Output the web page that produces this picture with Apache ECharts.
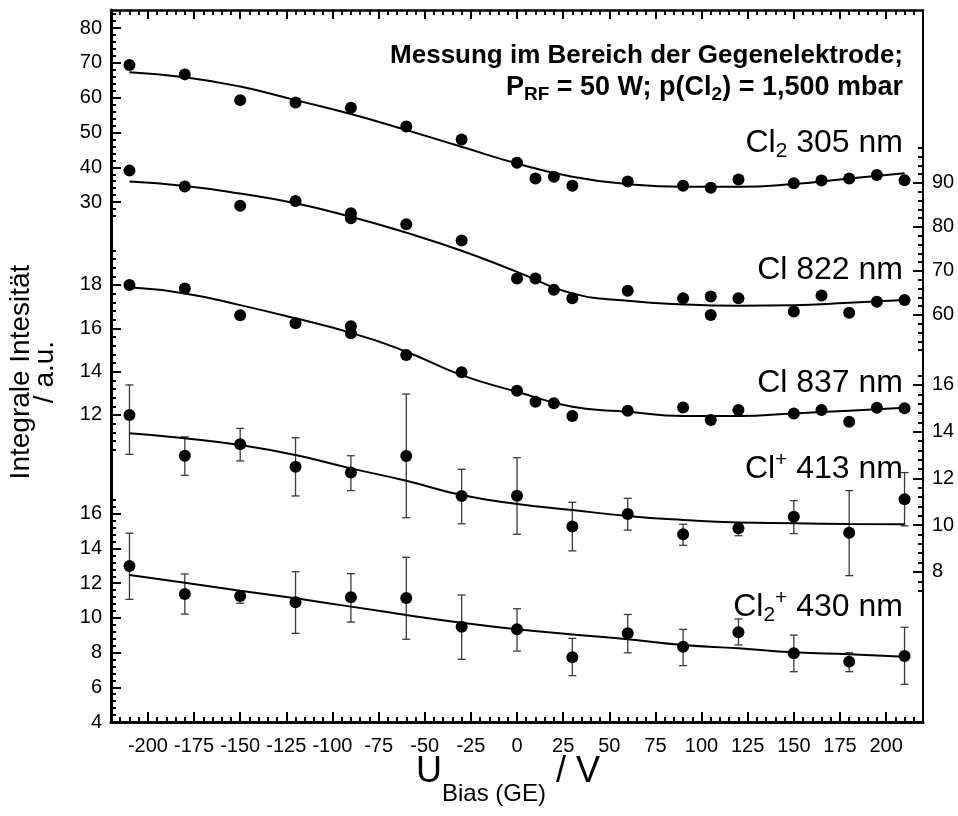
<!DOCTYPE html>
<html><head><meta charset="utf-8">
<script src="https://cdn.jsdelivr.net/npm/echarts@6/dist/echarts.min.js"></script>
<style>html,body{margin:0;padding:0;background:#fff}#c{width:958px;height:816px}</style>
</head><body><div id="c"></div>
<script>
// ---------- DATA ----------
const xLabels = [-200,-175,-150,-125,-100,-75,-50,-25,0,25,50,75,100,125,150,175,200];

const xCl2_305 = [-210,-180,-150,-120,-90,-60,-30,0,10,20,30,60,90,105,120,150,165,180,195,210];
const yCl2_305 = [69.4,66.7,59.3,58.6,57.1,51.7,48.0,41.3,36.8,37.3,34.7,35.9,34.7,34.1,36.5,35.4,36.2,36.8,37.8,36.3];

const xCl_822 = [-210,-180,-150,-120,-90,-90,-60,-30,0,10,20,30,60,90,105,105,120,150,165,180,195,210];
const yCl_822 = [92.8,89.2,84.8,85.9,83.1,82.0,80.6,76.9,68.3,68.3,65.7,63.8,65.5,63.8,64.2,60.0,63.8,60.8,64.4,60.5,63.0,63.4];

const xCl_837 = [-210,-180,-150,-120,-90,-90,-60,-30,0,10,20,30,60,90,105,120,150,165,180,195,210];
const yCl_837 = [18.0,17.84,16.6,16.23,16.1,15.77,14.77,13.97,13.12,12.61,12.54,11.95,12.2,12.35,11.77,12.23,12.07,12.23,11.69,12.33,12.31];

const xIon = [-210,-180,-150,-120,-90,-60,-30,0,30,60,90,120,150,180,210];
const yClp_413 = [14.71,12.97,13.46,12.5,12.25,12.96,11.25,11.26,9.94,10.48,9.61,9.87,10.36,9.68,11.11];
const loClp_413 = [13.03,12.13,12.75,11.25,11.48,10.32,10.06,9.61,8.9,9.79,9.14,9.55,9.64,7.84,9.97];
const hiClp_413 = [16.0,13.78,14.14,13.74,12.97,15.61,12.39,12.89,10.98,11.15,10.04,10.08,11.05,11.48,12.25];

const yCl2p_430 = [12.99,11.38,11.26,10.9,11.19,11.15,9.49,9.34,7.73,9.11,8.34,9.17,7.96,7.48,7.8];
const loCl2p_430 = [11.07,10.22,10.84,9.11,9.76,8.77,7.61,8.09,6.67,7.99,7.25,8.44,6.9,6.9,6.17];
const hiCl2p_430 = [14.88,12.53,11.57,12.66,12.55,13.49,11.32,10.53,8.82,10.2,9.34,9.94,9.01,7.99,9.46];

const xFit = [-210,-180,-150,-120,-90,-60,-30,0,30,60,90,120,150,180,210];
const fitCl2_305 = [67.3,65.9,63.2,59.3,55.3,50.7,45.9,41.1,37.3,35.2,34.4,34.4,35.2,36.8,38.3];
const fitCl_822 = [90.3,89.3,87.6,85.4,82.3,78.7,74.6,69.8,64.9,63.25,62.4,62.1,62.2,62.8,63.4];
const fitCl_837 = [17.89,17.61,17.07,16.46,15.79,14.92,13.84,13.07,12.38,12.15,11.95,11.95,12.07,12.2,12.33];
const fitClp_413 = [13.93,13.72,13.43,13.0,12.43,11.9,11.29,10.91,10.65,10.39,10.22,10.11,10.08,10.05,10.04];
const fitCl2p_430 = [12.47,12.03,11.57,11.13,10.65,10.17,9.72,9.34,9.05,8.77,8.44,8.25,8.02,7.9,7.76];

// tick label arrays for each stacked scale
const lblLeftTop = [30,40,50,60,70,80];
const lblLeftMid = [12,14,16,18];
const lblLeftBot = [4,6,8,10,12,14,16];
const lblRightTop = [60,70,80,90];
const lblRightBot = [8,10,12,14,16];

// ---------- helpers ----------
function range(a,b,s){const r=[];const n=Math.round((b-a)/s);for(let i=0;i<=n;i++)r.push(+(a+i*s).toFixed(3));return r;}
function without(arr,ex){return arr.filter(v=>!ex.some(e=>Math.abs(e-v)<1e-6));}
const FONT = '"Liberation Sans", Arial, Helvetica, sans-serif';
const BLACK = '#000';

function yPair(pos, min, max, labels, minors, line, lineW){
  return [
    {type:'value', position:pos, min:min, max:max,
     axisLine:{show:line, onZero:false, lineStyle:{color:BLACK,width:lineW}},
     splitLine:{show:false},
     axisTick:{show:true, inside:true, length:10, lineStyle:{color:BLACK,width:2}, customValues:labels},
     axisLabel:{show:true, customValues:labels, color:BLACK, fontSize:20, fontFamily:FONT, margin:9}},
    {type:'value', position:pos, min:min, max:max,
     axisLine:{show:false, onZero:false}, splitLine:{show:false},
     axisTick:{show:true, inside:true, length:5, lineStyle:{color:BLACK,width:2}, customValues:without(minors,labels)},
     axisLabel:{show:false}}
  ];
}

const yAxes = [].concat(
  yPair('left', -119.4, 85.2, lblLeftTop, range(26,84,2), true, 3),      // 0,1
  yPair('left', -2.17, 30.69, lblLeftMid, range(10.4,19.6,0.4), false, 3), // 2,3
  yPair('left', 4, 45.04, lblLeftBot, range(4,16.8,0.4), false, 3),        // 4,5
  yPair('right', -32.5, 129.3, lblRightTop, range(52,98,2), true, 2),      // 6,7
  yPair('right', 1.58, 32.04, lblRightBot, range(7.2,16.4,0.4), false, 2)  // 8,9
);

const xMinor = without(range(-215,215,5), xLabels);
const xAxes = [
  {type:'value', position:'bottom', min:-220, max:220,
   axisLine:{onZero:false, lineStyle:{color:BLACK,width:3}}, splitLine:{show:false},
   axisTick:{inside:true, length:10, lineStyle:{color:BLACK,width:2}, customValues:xLabels},
   axisLabel:{customValues:xLabels, color:BLACK, fontSize:20, fontFamily:FONT, margin:14}},
  {type:'value', position:'bottom', min:-220, max:220,
   axisLine:{show:false,onZero:false}, splitLine:{show:false},
   axisTick:{inside:true, length:5, lineStyle:{color:BLACK,width:2}, customValues:xMinor},
   axisLabel:{show:false}},
  {type:'value', position:'top', min:-220, max:220,
   axisLine:{onZero:false, lineStyle:{color:BLACK,width:2.5}}, splitLine:{show:false},
   axisTick:{inside:true, length:9, lineStyle:{color:BLACK,width:2}, customValues:xLabels},
   axisLabel:{show:false}},
  {type:'value', position:'top', min:-220, max:220,
   axisLine:{show:false,onZero:false}, splitLine:{show:false},
   axisTick:{inside:true, length:5, lineStyle:{color:BLACK,width:2}, customValues:xMinor},
   axisLabel:{show:false}}
];

function zip(xs, ys){return xs.map((x,i)=>[x, ys[i]]);}
function zip3(xs, a, b){return xs.map((x,i)=>[x, a[i], b[i]]);}

function errRender(params, api){
  const x = api.value(0), lo = api.value(1), hi = api.value(2);
  const p1 = api.coord([x, hi]), p2 = api.coord([x, lo]);
  const w = 4;
  const st = {stroke:'#3a3a3a', lineWidth:1.3};
  return {type:'group', children:[
    {type:'line', shape:{x1:p1[0],y1:p1[1],x2:p2[0],y2:p2[1]}, style:st},
    {type:'line', shape:{x1:p1[0]-w,y1:p1[1],x2:p1[0]+w,y2:p1[1]}, style:st},
    {type:'line', shape:{x1:p2[0]-w,y1:p2[1],x2:p2[0]+w,y2:p2[1]}, style:st}
  ]};
}

function scatter(name, data, yi){
  return {name:name, type:'scatter', xAxisIndex:0, yAxisIndex:yi, data:data,
    symbol:'circle', symbolSize:12, itemStyle:{color:BLACK, opacity:1}, z:5, silent:true};
}
function fit(name, data, yi){
  return {name:name, type:'line', xAxisIndex:0, yAxisIndex:yi, data:data, smooth:0.5,
    showSymbol:false, lineStyle:{color:BLACK, width:2}, z:4, silent:true};
}
function errs(name, data, yi){
  return {name:name, type:'custom', xAxisIndex:0, yAxisIndex:yi, data:data,
    renderItem:errRender, encode:{x:0, y:[1,2]}, z:3, silent:true};
}

const series = [
  fit('fit Cl2 305', zip(xFit, fitCl2_305), 0),
  scatter('Cl2 305 nm', zip(xCl2_305, yCl2_305), 0),
  fit('fit Cl 822', zip(xFit, fitCl_822), 6),
  scatter('Cl 822 nm', zip(xCl_822, yCl_822), 6),
  fit('fit Cl 837', zip(xFit, fitCl_837), 2),
  scatter('Cl 837 nm', zip(xCl_837, yCl_837), 2),
  errs('err Cl+ 413', zip3(xIon, loClp_413, hiClp_413), 8),
  fit('fit Cl+ 413', zip(xFit, fitClp_413), 8),
  scatter('Cl+ 413 nm', zip(xIon, yClp_413), 8),
  errs('err Cl2+ 430', zip3(xIon, loCl2p_430, hiCl2p_430), 4),
  fit('fit Cl2+ 430', zip(xFit, fitCl2p_430), 4),
  scatter('Cl2+ 430 nm', zip(xIon, yCl2p_430), 4)
];

const labRich = {
  n:{fontSize:32, fontFamily:FONT, lineHeight:38, color:BLACK},
  sub:{fontSize:21, fontFamily:FONT, lineHeight:18, verticalAlign:'bottom', color:BLACK},
  sup:{fontSize:21, fontFamily:FONT, lineHeight:18, verticalAlign:'top', color:BLACK}
};
function seriesLabel(txt, y){
  return {type:'text', x:903, y:y, z:10, style:{text:txt, rich:labRich, align:'right', verticalAlign:'middle', fill:BLACK}};
}

const graphics = [
  {type:'text', x:903, y:56, z:10, style:{text:'Messung im Bereich der Gegenelektrode;',
     font:'bold 26px '+FONT, fill:BLACK, align:'right', verticalAlign:'middle'}},
  {type:'text', x:903, y:88, z:10, style:{
     text:'{b|P}{bs|RF}{b| = 50 W; p(Cl}{bs|2}{b|) = 1,500 mbar}',
     align:'right', verticalAlign:'middle',
     rich:{b:{font:'bold 27px '+FONT, lineHeight:32, fill:BLACK},
           bs:{font:'bold 19px '+FONT, lineHeight:14, verticalAlign:'bottom', fill:BLACK}}}},
  seriesLabel('{n|Cl}{sub|2}{n| 305 nm}', 143),
  seriesLabel('{n|Cl 822 nm}', 270),
  seriesLabel('{n|Cl 837 nm}', 383),
  seriesLabel('{n|Cl}{sup|+}{n| 413 nm}', 469),
  seriesLabel('{n|Cl}{sub|2}{sup|+}{n| 430 nm}', 607),
  {type:'text', x:33, y:372, rotation:Math.PI/2, z:10, style:{
     text:'Integrale Intesität\n/ a.u.', font:'28px '+FONT, lineHeight:24, fill:BLACK,
     align:'center', verticalAlign:'middle'}},
  {type:'text', x:508, y:772, z:10, style:{
     text:'{u|U}{s|Bias (GE)}{u| / V}', align:'center', verticalAlign:'middle',
     rich:{u:{fontSize:36, fontFamily:FONT, lineHeight:68, fill:BLACK},
           s:{fontSize:24, fontFamily:FONT, lineHeight:20, verticalAlign:'bottom', fill:BLACK}}}}
];

const chart = echarts.init(document.getElementById('c'), null, {renderer:'canvas'});
chart.setOption({
  animation:false,
  backgroundColor:'#fff',
  grid:{left:111, right:35, top:10, bottom:94, containLabel:false},
  xAxis:xAxes,
  yAxis:yAxes,
  series:series,
  graphic:graphics
});
</script>
</body></html>
